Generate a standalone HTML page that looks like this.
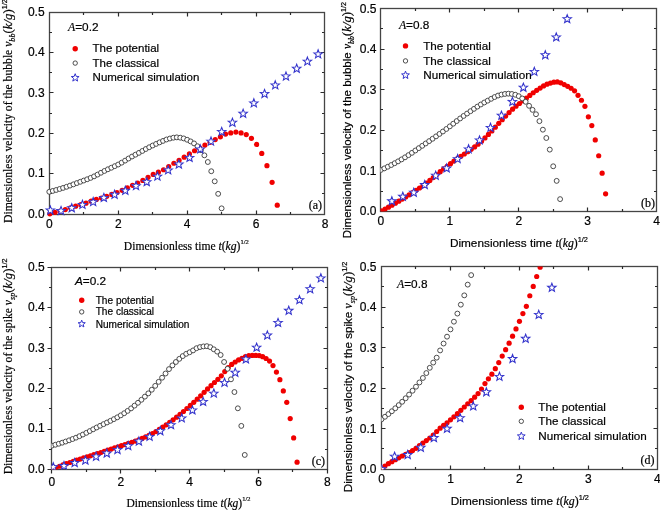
<!DOCTYPE html>
<html><head><meta charset="utf-8"><style>
html,body{margin:0;padding:0;background:#fff;}
svg{display:block;will-change:transform;}
.s{font-family:"Liberation Sans",sans-serif;fill:#000;stroke:#000;stroke-width:0.2;}
.f{font-family:"Liberation Serif",serif;fill:#000;stroke:#000;stroke-width:0.2;}
.fi{font-family:"Liberation Serif",serif;font-style:italic;}
</style></head><body>
<svg width="660" height="510" viewBox="0 0 660 510">
<defs><clipPath id="ca"><rect x="0" y="0" width="660" height="510"/></clipPath></defs>
<rect x="49.5" y="12.5" width="275" height="202" fill="none" stroke="#454545" stroke-width="1.3"/>
<path d="M83.5 214.5V212M83.5 12.5V15M118.5 214.5V210.5M118.5 12.5V16.5M152.5 214.5V212M152.5 12.5V15M187.5 214.5V210.5M187.5 12.5V16.5M221.5 214.5V212M221.5 12.5V15M256.5 214.5V210.5M256.5 12.5V16.5M290.5 214.5V212M290.5 12.5V15M49.5 193.5H52M324.5 193.5H322M49.5 173.5H53.5M324.5 173.5H320.5M49.5 153.5H52M324.5 153.5H322M49.5 133.5H53.5M324.5 133.5H320.5M49.5 113.5H52M324.5 113.5H322M49.5 92.5H53.5M324.5 92.5H320.5M49.5 72.5H52M324.5 72.5H322M49.5 52.5H53.5M324.5 52.5H320.5M49.5 32.5H52M324.5 32.5H322" stroke="#2a2a2a" stroke-width="1.2" fill="none"/>
<rect x="380.5" y="8.5" width="276" height="203" fill="none" stroke="#454545" stroke-width="1.3"/>
<path d="M415.5 211.5V209M415.5 8.5V11M449.5 211.5V207.5M449.5 8.5V12.5M484.5 211.5V209M484.5 8.5V11M518.5 211.5V207.5M518.5 8.5V12.5M553.5 211.5V209M553.5 8.5V11M587.5 211.5V207.5M587.5 8.5V12.5M622.5 211.5V209M622.5 8.5V11M380.5 191.5H383M656.5 191.5H654M380.5 170.5H384.5M656.5 170.5H652.5M380.5 150.5H383M656.5 150.5H654M380.5 130.5H384.5M656.5 130.5H652.5M380.5 109.5H383M656.5 109.5H654M380.5 89.5H384.5M656.5 89.5H652.5M380.5 69.5H383M656.5 69.5H654M380.5 49.5H384.5M656.5 49.5H652.5M380.5 28.5H383M656.5 28.5H654" stroke="#2a2a2a" stroke-width="1.2" fill="none"/>
<rect x="51.5" y="267.5" width="276" height="202" fill="none" stroke="#454545" stroke-width="1.3"/>
<path d="M86.5 469.5V472M86.5 267.5V270M120.5 469.5V473.5M120.5 267.5V271.5M155.5 469.5V472M155.5 267.5V270M189.5 469.5V473.5M189.5 267.5V271.5M224.5 469.5V472M224.5 267.5V270M258.5 469.5V473.5M258.5 267.5V271.5M292.5 469.5V472M292.5 267.5V270M51.5 469.5V473.5M327.5 469.5V473.5M51.5 449.5H49M327.5 449.5H325M51.5 429.5H47.5M327.5 429.5H323.5M51.5 408.5H49M327.5 408.5H325M51.5 388.5H47.5M327.5 388.5H323.5M51.5 368.5H49M327.5 368.5H325M51.5 348.5H47.5M327.5 348.5H323.5M51.5 327.5H49M327.5 327.5H325M51.5 307.5H47.5M327.5 307.5H323.5M51.5 287.5H49M327.5 287.5H325M51.5 469.5H47.5M51.5 267.5H47.5" stroke="#2a2a2a" stroke-width="1.2" fill="none"/>
<rect x="381.5" y="266.5" width="276" height="203" fill="none" stroke="#454545" stroke-width="1.3"/>
<path d="M415.5 469.5V467M415.5 266.5V269M450.5 469.5V465.5M450.5 266.5V270.5M484.5 469.5V467M484.5 266.5V269M519.5 469.5V465.5M519.5 266.5V270.5M553.5 469.5V467M553.5 266.5V269M588.5 469.5V465.5M588.5 266.5V270.5M622.5 469.5V467M622.5 266.5V269M381.5 448.5H384M657.5 448.5H655M381.5 428.5H385.5M657.5 428.5H653.5M381.5 408.5H384M657.5 408.5H655M381.5 388.5H385.5M657.5 388.5H653.5M381.5 367.5H384M657.5 367.5H655M381.5 347.5H385.5M657.5 347.5H653.5M381.5 327.5H384M657.5 327.5H655M381.5 307.5H385.5M657.5 307.5H653.5M381.5 286.5H384M657.5 286.5H655" stroke="#2a2a2a" stroke-width="1.2" fill="none"/>
<clipPath id="ca"><rect x="49.5" y="12.5" width="275" height="202"/></clipPath><g clip-path="url(#ca)">
<g fill="#f00000"><circle cx="49.82" cy="213.85" r="2.6"/><circle cx="54.99" cy="212.36" r="2.6"/><circle cx="60.16" cy="210.98" r="2.6"/><circle cx="65.33" cy="209.53" r="2.6"/><circle cx="70.49" cy="207.85" r="2.6"/><circle cx="75.66" cy="206.18" r="2.6"/><circle cx="80.83" cy="204.7" r="2.6"/><circle cx="86" cy="203.14" r="2.6"/><circle cx="91.17" cy="201.22" r="2.6"/><circle cx="96.34" cy="199.45" r="2.6"/><circle cx="101.51" cy="198.11" r="2.6"/><circle cx="106.68" cy="196.37" r="2.6"/><circle cx="111.85" cy="194.45" r="2.6"/><circle cx="117.02" cy="192.49" r="2.6"/><circle cx="122.19" cy="190.32" r="2.6"/><circle cx="127.36" cy="187.85" r="2.6"/><circle cx="132.53" cy="185.36" r="2.6"/><circle cx="137.7" cy="183.01" r="2.6"/><circle cx="142.87" cy="180.46" r="2.6"/><circle cx="148.04" cy="177.35" r="2.6"/><circle cx="153.2" cy="174.44" r="2.6"/><circle cx="158.37" cy="172.18" r="2.6"/><circle cx="163.54" cy="169.75" r="2.6"/><circle cx="168.71" cy="166.56" r="2.6"/><circle cx="173.88" cy="163.26" r="2.6"/><circle cx="179.05" cy="160.25" r="2.6"/><circle cx="184.22" cy="157.21" r="2.6"/><circle cx="189.39" cy="153.94" r="2.6"/><circle cx="194.56" cy="150.77" r="2.6"/><circle cx="199.73" cy="147.84" r="2.6"/><circle cx="204.9" cy="145.03" r="2.6"/><circle cx="210.07" cy="142.29" r="2.6"/><circle cx="215.24" cy="139.58" r="2.6"/><circle cx="220.41" cy="136.83" r="2.6"/><circle cx="225.58" cy="134.07" r="2.6"/><circle cx="230.75" cy="132.95" r="2.6"/><circle cx="235.91" cy="132.11" r="2.6"/><circle cx="241.08" cy="132.95" r="2.6"/><circle cx="246.25" cy="134.61" r="2.6"/><circle cx="251.42" cy="138.31" r="2.6"/><circle cx="256.59" cy="144.45" r="2.6"/><circle cx="261.76" cy="153.43" r="2.6"/><circle cx="266.93" cy="165.66" r="2.6"/><circle cx="272.1" cy="182.37" r="2.6"/><circle cx="277.27" cy="205.13" r="2.6"/></g>
<g fill="#fff" stroke="#3a3a3a" stroke-width="0.9"><circle cx="49.3" cy="191.81" r="2.45"/><circle cx="52.75" cy="190.93" r="2.45"/><circle cx="56.19" cy="189.98" r="2.45"/><circle cx="59.64" cy="188.98" r="2.45"/><circle cx="63.08" cy="187.92" r="2.45"/><circle cx="66.53" cy="186.81" r="2.45"/><circle cx="69.98" cy="185.6" r="2.45"/><circle cx="73.42" cy="184.34" r="2.45"/><circle cx="76.87" cy="183.05" r="2.45"/><circle cx="80.32" cy="181.78" r="2.45"/><circle cx="83.76" cy="180.53" r="2.45"/><circle cx="87.21" cy="179.25" r="2.45"/><circle cx="90.66" cy="177.88" r="2.45"/><circle cx="94.1" cy="176.34" r="2.45"/><circle cx="97.55" cy="174.59" r="2.45"/><circle cx="100.99" cy="172.75" r="2.45"/><circle cx="104.44" cy="170.95" r="2.45"/><circle cx="107.89" cy="169.29" r="2.45"/><circle cx="111.33" cy="167.73" r="2.45"/><circle cx="114.78" cy="166.16" r="2.45"/><circle cx="118.22" cy="164.51" r="2.45"/><circle cx="121.67" cy="162.66" r="2.45"/><circle cx="125.12" cy="160.61" r="2.45"/><circle cx="128.56" cy="158.52" r="2.45"/><circle cx="132.01" cy="156.53" r="2.45"/><circle cx="135.46" cy="154.69" r="2.45"/><circle cx="138.9" cy="152.87" r="2.45"/><circle cx="142.35" cy="150.95" r="2.45"/><circle cx="145.8" cy="149.02" r="2.45"/><circle cx="149.24" cy="147.22" r="2.45"/><circle cx="152.69" cy="145.51" r="2.45"/><circle cx="156.13" cy="143.9" r="2.45"/><circle cx="159.58" cy="142.37" r="2.45"/><circle cx="163.03" cy="140.9" r="2.45"/><circle cx="166.47" cy="139.5" r="2.45"/><circle cx="169.92" cy="138.52" r="2.45"/><circle cx="173.37" cy="137.71" r="2.45"/><circle cx="176.81" cy="137.35" r="2.45"/><circle cx="180.26" cy="137.69" r="2.45"/><circle cx="183.7" cy="138.43" r="2.45"/><circle cx="187.15" cy="139.77" r="2.45"/><circle cx="190.6" cy="141.39" r="2.45"/><circle cx="194.04" cy="143.41" r="2.45"/><circle cx="197.49" cy="146.23" r="2.45"/><circle cx="200.94" cy="150.21" r="2.45"/><circle cx="204.38" cy="155.32" r="2.45"/><circle cx="207.83" cy="161.99" r="2.45"/><circle cx="211.27" cy="171.24" r="2.45"/><circle cx="214.72" cy="181.32" r="2.45"/><circle cx="218.17" cy="193.83" r="2.45"/><circle cx="221.61" cy="208.35" r="2.45"/></g>
<g fill="#fff" stroke="#3434cc" stroke-width="1.05" stroke-linejoin="miter"><path d="M50.33 205.92 L51.45 208.83 L54.57 208.99 L52.14 210.96 L52.95 213.97 L50.33 212.27 L47.72 213.97 L48.53 210.96 L46.1 208.99 L49.22 208.83Z"/><path d="M61.04 206.44 L62.16 209.35 L65.28 209.51 L62.85 211.48 L63.66 214.49 L61.04 212.79 L58.43 214.49 L59.24 211.48 L56.81 209.51 L59.93 209.35Z"/><path d="M71.76 203.64 L72.87 206.56 L75.99 206.72 L73.56 208.68 L74.37 211.7 L71.76 209.99 L69.14 211.7 L69.95 208.68 L67.52 206.72 L70.64 206.56Z"/><path d="M82.47 200.33 L83.58 203.24 L86.7 203.4 L84.27 205.37 L85.08 208.38 L82.47 206.68 L79.85 208.38 L80.66 205.37 L78.23 203.4 L81.35 203.24Z"/><path d="M93.18 197.52 L94.29 200.43 L97.41 200.6 L94.98 202.56 L95.79 205.57 L93.18 203.87 L90.56 205.57 L91.37 202.56 L88.95 200.6 L92.06 200.43Z"/><path d="M103.89 193.37 L105.01 196.28 L108.12 196.44 L105.7 198.41 L106.5 201.42 L103.89 199.72 L101.27 201.42 L102.08 198.41 L99.66 196.44 L102.77 196.28Z"/><path d="M114.6 190.25 L115.72 193.16 L118.83 193.32 L116.41 195.28 L117.22 198.3 L114.6 196.6 L111.98 198.3 L112.79 195.28 L110.37 193.32 L113.48 193.16Z"/><path d="M125.31 186.21 L126.43 189.13 L129.54 189.29 L127.12 191.25 L127.93 194.26 L125.31 192.56 L122.69 194.26 L123.5 191.25 L121.08 189.29 L124.19 189.13Z"/><path d="M136.02 181.5 L137.14 184.41 L140.25 184.58 L137.83 186.54 L138.64 189.55 L136.02 187.85 L133.41 189.55 L134.21 186.54 L131.79 184.58 L134.9 184.41Z"/><path d="M146.73 177.61 L147.85 180.52 L150.96 180.68 L148.54 182.65 L149.35 185.66 L146.73 183.96 L144.12 185.66 L144.93 182.65 L142.5 180.68 L145.62 180.52Z"/><path d="M157.44 172.05 L158.56 174.97 L161.68 175.13 L159.25 177.09 L160.06 180.1 L157.44 178.4 L154.83 180.1 L155.64 177.09 L153.21 175.13 L156.33 174.97Z"/><path d="M168.15 165.8 L169.27 168.71 L172.39 168.87 L169.96 170.84 L170.77 173.85 L168.15 172.15 L165.54 173.85 L166.35 170.84 L163.92 168.87 L167.04 168.71Z"/><path d="M178.87 159.93 L179.98 162.85 L183.1 163.01 L180.67 164.97 L181.48 167.98 L178.87 166.28 L176.25 167.98 L177.06 164.97 L174.63 163.01 L177.75 162.85Z"/><path d="M189.58 153.38 L190.69 156.29 L193.81 156.45 L191.38 158.41 L192.19 161.43 L189.58 159.73 L186.96 161.43 L187.77 158.41 L185.34 156.45 L188.46 156.29Z"/><path d="M200.29 144.84 L201.4 147.75 L204.52 147.91 L202.09 149.87 L202.9 152.89 L200.29 151.19 L197.67 152.89 L198.48 149.87 L196.05 147.91 L199.17 147.75Z"/><path d="M211 137.03 L212.11 139.94 L215.23 140.11 L212.81 142.07 L213.61 145.08 L211 143.38 L208.38 145.08 L209.19 142.07 L206.77 140.11 L209.88 139.94Z"/><path d="M221.71 127.38 L222.83 130.29 L225.94 130.45 L223.52 132.42 L224.32 135.43 L221.71 133.73 L219.09 135.43 L219.9 132.42 L217.48 130.45 L220.59 130.29Z"/><path d="M232.42 118.17 L233.54 121.08 L236.65 121.24 L234.23 123.2 L235.04 126.22 L232.42 124.52 L229.8 126.22 L230.61 123.2 L228.19 121.24 L231.3 121.08Z"/><path d="M243.13 109.18 L244.25 112.1 L247.36 112.26 L244.94 114.22 L245.75 117.23 L243.13 115.53 L240.52 117.23 L241.32 114.22 L238.9 112.26 L242.01 112.1Z"/><path d="M253.84 98.77 L254.96 101.68 L258.07 101.84 L255.65 103.8 L256.46 106.82 L253.84 105.12 L251.23 106.82 L252.03 103.8 L249.61 101.84 L252.73 101.68Z"/><path d="M264.55 89.45 L265.67 92.36 L268.78 92.53 L266.36 94.49 L267.17 97.5 L264.55 95.8 L261.94 97.5 L262.75 94.49 L260.32 92.53 L263.44 92.36Z"/><path d="M275.26 80.83 L276.38 83.75 L279.5 83.91 L277.07 85.87 L277.88 88.88 L275.26 87.18 L272.65 88.88 L273.46 85.87 L271.03 83.91 L274.15 83.75Z"/><path d="M285.97 71.92 L287.09 74.83 L290.21 74.99 L287.78 76.96 L288.59 79.97 L285.97 78.27 L283.36 79.97 L284.17 76.96 L281.74 74.99 L284.86 74.83Z"/><path d="M296.69 64.2 L297.8 67.11 L300.92 67.27 L298.49 69.24 L299.3 72.25 L296.69 70.55 L294.07 72.25 L294.88 69.24 L292.45 67.27 L295.57 67.11Z"/><path d="M307.4 57.08 L308.51 60 L311.63 60.16 L309.2 62.12 L310.01 65.13 L307.4 63.43 L304.78 65.13 L305.59 62.12 L303.16 60.16 L306.28 60Z"/><path d="M318.11 49.8 L319.22 52.72 L322.34 52.88 L319.91 54.84 L320.72 57.85 L318.11 56.15 L315.49 57.85 L316.3 54.84 L313.88 52.88 L316.99 52.72Z"/></g>
</g>
<clipPath id="cb"><rect x="380.5" y="8.5" width="276" height="203"/></clipPath><g clip-path="url(#cb)">
<g fill="#f00000"><circle cx="381.59" cy="210.94" r="2.6"/><circle cx="385.04" cy="209.09" r="2.6"/><circle cx="388.48" cy="207.2" r="2.6"/><circle cx="391.93" cy="205.25" r="2.6"/><circle cx="395.37" cy="203.25" r="2.6"/><circle cx="398.82" cy="201.21" r="2.6"/><circle cx="402.27" cy="199.12" r="2.6"/><circle cx="405.71" cy="196.98" r="2.6"/><circle cx="409.16" cy="194.82" r="2.6"/><circle cx="412.61" cy="192.6" r="2.6"/><circle cx="416.05" cy="190.33" r="2.6"/><circle cx="419.5" cy="187.99" r="2.6"/><circle cx="422.94" cy="185.57" r="2.6"/><circle cx="426.39" cy="183.07" r="2.6"/><circle cx="429.84" cy="180.42" r="2.6"/><circle cx="433.28" cy="177.55" r="2.6"/><circle cx="436.73" cy="174.59" r="2.6"/><circle cx="440.18" cy="171.67" r="2.6"/><circle cx="443.62" cy="168.92" r="2.6"/><circle cx="447.07" cy="166.24" r="2.6"/><circle cx="450.51" cy="163.64" r="2.6"/><circle cx="453.96" cy="161.11" r="2.6"/><circle cx="457.41" cy="158.7" r="2.6"/><circle cx="460.85" cy="156.36" r="2.6"/><circle cx="464.3" cy="154.02" r="2.6"/><circle cx="467.75" cy="151.65" r="2.6"/><circle cx="471.19" cy="149.32" r="2.6"/><circle cx="474.64" cy="146.89" r="2.6"/><circle cx="478.08" cy="144.19" r="2.6"/><circle cx="481.53" cy="141.16" r="2.6"/><circle cx="484.98" cy="137.88" r="2.6"/><circle cx="488.42" cy="134.46" r="2.6"/><circle cx="491.87" cy="130.93" r="2.6"/><circle cx="495.32" cy="127.17" r="2.6"/><circle cx="498.76" cy="123.36" r="2.6"/><circle cx="502.21" cy="119.68" r="2.6"/><circle cx="505.65" cy="116.07" r="2.6"/><circle cx="509.1" cy="112.53" r="2.6"/><circle cx="512.55" cy="109.21" r="2.6"/><circle cx="515.99" cy="106.22" r="2.6"/><circle cx="519.44" cy="103.48" r="2.6"/><circle cx="522.89" cy="100.85" r="2.6"/><circle cx="526.33" cy="98.19" r="2.6"/><circle cx="529.78" cy="95.44" r="2.6"/><circle cx="533.22" cy="92.74" r="2.6"/><circle cx="536.67" cy="90.29" r="2.6"/><circle cx="540.12" cy="88.06" r="2.6"/><circle cx="543.56" cy="85.93" r="2.6"/><circle cx="547.01" cy="84.2" r="2.6"/><circle cx="550.46" cy="83.07" r="2.6"/><circle cx="553.9" cy="82.19" r="2.6"/><circle cx="557.35" cy="81.94" r="2.6"/><circle cx="560.79" cy="82.85" r="2.6"/><circle cx="564.24" cy="84.53" r="2.6"/><circle cx="567.69" cy="86.31" r="2.6"/><circle cx="571.13" cy="88.24" r="2.6"/><circle cx="574.58" cy="90.84" r="2.6"/><circle cx="578.03" cy="95.3" r="2.6"/><circle cx="581.47" cy="100.27" r="2.6"/><circle cx="584.92" cy="106.32" r="2.6"/><circle cx="588.36" cy="116.8" r="2.6"/><circle cx="591.81" cy="125.6" r="2.6"/><circle cx="595.26" cy="139.91" r="2.6"/><circle cx="598.7" cy="155.73" r="2.6"/><circle cx="602.15" cy="173.17" r="2.6"/><circle cx="605.6" cy="193.86" r="2.6"/></g>
<g fill="#fff" stroke="#3a3a3a" stroke-width="0.9"><circle cx="380.9" cy="169.93" r="2.45"/><circle cx="384.35" cy="168.38" r="2.45"/><circle cx="387.79" cy="166.74" r="2.45"/><circle cx="391.24" cy="165.02" r="2.45"/><circle cx="394.69" cy="163.21" r="2.45"/><circle cx="398.13" cy="161.34" r="2.45"/><circle cx="401.58" cy="159.39" r="2.45"/><circle cx="405.02" cy="157.32" r="2.45"/><circle cx="408.47" cy="155.13" r="2.45"/><circle cx="411.92" cy="152.84" r="2.45"/><circle cx="415.36" cy="150.5" r="2.45"/><circle cx="418.81" cy="148.14" r="2.45"/><circle cx="422.25" cy="145.8" r="2.45"/><circle cx="425.7" cy="143.47" r="2.45"/><circle cx="429.15" cy="141.12" r="2.45"/><circle cx="432.59" cy="138.76" r="2.45"/><circle cx="436.04" cy="136.36" r="2.45"/><circle cx="439.49" cy="133.94" r="2.45"/><circle cx="442.93" cy="131.49" r="2.45"/><circle cx="446.38" cy="128.97" r="2.45"/><circle cx="449.82" cy="126.35" r="2.45"/><circle cx="453.27" cy="123.69" r="2.45"/><circle cx="456.72" cy="121.04" r="2.45"/><circle cx="460.16" cy="118.43" r="2.45"/><circle cx="463.61" cy="115.93" r="2.45"/><circle cx="467.06" cy="113.55" r="2.45"/><circle cx="470.5" cy="111.18" r="2.45"/><circle cx="473.95" cy="108.86" r="2.45"/><circle cx="477.39" cy="106.61" r="2.45"/><circle cx="480.84" cy="104.48" r="2.45"/><circle cx="484.29" cy="102.49" r="2.45"/><circle cx="487.73" cy="100.66" r="2.45"/><circle cx="491.18" cy="98.79" r="2.45"/><circle cx="494.63" cy="97.03" r="2.45"/><circle cx="498.07" cy="95.55" r="2.45"/><circle cx="501.52" cy="94.55" r="2.45"/><circle cx="504.97" cy="93.96" r="2.45"/><circle cx="508.41" cy="93.68" r="2.45"/><circle cx="511.86" cy="93.98" r="2.45"/><circle cx="515.3" cy="94.75" r="2.45"/><circle cx="518.75" cy="96.18" r="2.45"/><circle cx="522.2" cy="98.46" r="2.45"/><circle cx="525.64" cy="101.79" r="2.45"/><circle cx="529.09" cy="105.83" r="2.45"/><circle cx="532.54" cy="109.86" r="2.45"/><circle cx="535.98" cy="114.22" r="2.45"/><circle cx="539.43" cy="121.16" r="2.45"/><circle cx="542.87" cy="129.69" r="2.45"/><circle cx="546.32" cy="138" r="2.45"/><circle cx="549.77" cy="149.63" r="2.45"/><circle cx="553.21" cy="166.28" r="2.45"/><circle cx="556.66" cy="180.88" r="2.45"/><circle cx="560.11" cy="199.13" r="2.45"/></g>
<g fill="#fff" stroke="#3434cc" stroke-width="1.05" stroke-linejoin="miter"><path d="M391.86 196.71 L392.98 199.62 L396.09 199.78 L393.67 201.75 L394.47 204.76 L391.86 203.06 L389.24 204.76 L390.05 201.75 L387.63 199.78 L390.74 199.62Z"/><path d="M402.82 192.25 L403.93 195.16 L407.05 195.32 L404.63 197.29 L405.43 200.3 L402.82 198.6 L400.2 200.3 L401.01 197.29 L398.59 195.32 L401.7 195.16Z"/><path d="M413.78 188.19 L414.89 191.11 L418.01 191.27 L415.58 193.23 L416.39 196.24 L413.78 194.54 L411.16 196.24 L411.97 193.23 L409.55 191.27 L412.66 191.11Z"/><path d="M424.74 180.49 L425.85 183.4 L428.97 183.56 L426.54 185.52 L427.35 188.54 L424.74 186.84 L422.12 188.54 L422.93 185.52 L420.5 183.56 L423.62 183.4Z"/><path d="M435.7 171.16 L436.81 174.07 L439.93 174.23 L437.5 176.19 L438.31 179.21 L435.7 177.51 L433.08 179.21 L433.89 176.19 L431.46 174.23 L434.58 174.07Z"/><path d="M446.65 163.86 L447.77 166.77 L450.89 166.93 L448.46 168.89 L449.27 171.91 L446.65 170.21 L444.04 171.91 L444.85 168.89 L442.42 166.93 L445.54 166.77Z"/><path d="M457.61 154.53 L458.73 157.44 L461.85 157.6 L459.42 159.56 L460.23 162.58 L457.61 160.88 L455 162.58 L455.81 159.56 L453.38 157.6 L456.5 157.44Z"/><path d="M468.57 144.79 L469.69 147.71 L472.8 147.87 L470.38 149.83 L471.19 152.84 L468.57 151.14 L465.96 152.84 L466.77 149.83 L464.34 147.87 L467.46 147.71Z"/><path d="M479.53 135.87 L480.65 138.78 L483.76 138.94 L481.34 140.91 L482.15 143.92 L479.53 142.22 L476.92 143.92 L477.72 140.91 L475.3 138.94 L478.41 138.78Z"/><path d="M490.49 123.3 L491.61 126.21 L494.72 126.37 L492.3 128.33 L493.11 131.35 L490.49 129.65 L487.88 131.35 L488.68 128.33 L486.26 126.37 L489.37 126.21Z"/><path d="M501.45 111.13 L502.57 114.04 L505.68 114.2 L503.26 116.17 L504.07 119.18 L501.45 117.48 L498.83 119.18 L499.64 116.17 L497.22 114.2 L500.33 114.04Z"/><path d="M512.41 97.34 L513.53 100.25 L516.64 100.41 L514.22 102.38 L515.02 105.39 L512.41 103.69 L509.79 105.39 L510.6 102.38 L508.18 100.41 L511.29 100.25Z"/><path d="M523.37 83.14 L524.48 86.05 L527.6 86.22 L525.17 88.18 L525.98 91.19 L523.37 89.49 L520.75 91.19 L521.56 88.18 L519.14 86.22 L522.25 86.05Z"/><path d="M534.33 67.32 L535.44 70.24 L538.56 70.4 L536.13 72.36 L536.94 75.37 L534.33 73.67 L531.71 75.37 L532.52 72.36 L530.09 70.4 L533.21 70.24Z"/><path d="M545.29 50.69 L546.4 53.61 L549.52 53.77 L547.09 55.73 L547.9 58.74 L545.29 57.04 L542.67 58.74 L543.48 55.73 L541.05 53.77 L544.17 53.61Z"/><path d="M556.25 32.85 L557.36 35.76 L560.48 35.92 L558.05 37.88 L558.86 40.9 L556.25 39.2 L553.63 40.9 L554.44 37.88 L552.01 35.92 L555.13 35.76Z"/><path d="M567.2 14.6 L568.32 17.51 L571.44 17.67 L569.01 19.63 L569.82 22.65 L567.2 20.95 L564.59 22.65 L565.4 19.63 L562.97 17.67 L566.09 17.51Z"/></g>
</g>
<clipPath id="cc"><rect x="51.5" y="267.5" width="276" height="202"/></clipPath><g clip-path="url(#cc)">
<g fill="#f00000"><circle cx="52.59" cy="469.18" r="2.6"/><circle cx="56.03" cy="467.62" r="2.6"/><circle cx="59.48" cy="466.26" r="2.6"/><circle cx="62.92" cy="464.95" r="2.6"/><circle cx="66.36" cy="463.69" r="2.6"/><circle cx="69.81" cy="462.48" r="2.6"/><circle cx="73.25" cy="461.31" r="2.6"/><circle cx="76.69" cy="460.16" r="2.6"/><circle cx="80.14" cy="459.04" r="2.6"/><circle cx="83.58" cy="457.94" r="2.6"/><circle cx="87.03" cy="456.85" r="2.6"/><circle cx="90.47" cy="455.77" r="2.6"/><circle cx="93.91" cy="454.69" r="2.6"/><circle cx="97.36" cy="453.6" r="2.6"/><circle cx="100.8" cy="452.49" r="2.6"/><circle cx="104.25" cy="451.37" r="2.6"/><circle cx="107.69" cy="450.22" r="2.6"/><circle cx="111.13" cy="449.04" r="2.6"/><circle cx="114.58" cy="447.89" r="2.6"/><circle cx="118.02" cy="446.77" r="2.6"/><circle cx="121.46" cy="445.66" r="2.6"/><circle cx="124.91" cy="444.56" r="2.6"/><circle cx="128.35" cy="443.44" r="2.6"/><circle cx="131.8" cy="442.29" r="2.6"/><circle cx="135.24" cy="441.08" r="2.6"/><circle cx="138.68" cy="439.8" r="2.6"/><circle cx="142.13" cy="438.44" r="2.6"/><circle cx="145.57" cy="436.96" r="2.6"/><circle cx="149.01" cy="435.35" r="2.6"/><circle cx="152.46" cy="433.54" r="2.6"/><circle cx="155.9" cy="431.55" r="2.6"/><circle cx="159.34" cy="429.41" r="2.6"/><circle cx="162.79" cy="427.14" r="2.6"/><circle cx="166.23" cy="424.78" r="2.6"/><circle cx="169.68" cy="422.36" r="2.6"/><circle cx="173.12" cy="419.87" r="2.6"/><circle cx="176.56" cy="417.22" r="2.6"/><circle cx="180.01" cy="414.43" r="2.6"/><circle cx="183.45" cy="411.52" r="2.6"/><circle cx="186.9" cy="408.51" r="2.6"/><circle cx="190.34" cy="405.44" r="2.6"/><circle cx="193.78" cy="402.32" r="2.6"/><circle cx="197.23" cy="399.15" r="2.6"/><circle cx="200.67" cy="395.81" r="2.6"/><circle cx="204.11" cy="392.37" r="2.6"/><circle cx="207.56" cy="388.94" r="2.6"/><circle cx="211" cy="385.63" r="2.6"/><circle cx="214.44" cy="382.5" r="2.6"/><circle cx="217.89" cy="379.33" r="2.6"/><circle cx="221.33" cy="375.8" r="2.6"/><circle cx="224.78" cy="371.6" r="2.6"/><circle cx="228.22" cy="367.54" r="2.6"/><circle cx="231.66" cy="364.47" r="2.6"/><circle cx="235.11" cy="361.99" r="2.6"/><circle cx="238.55" cy="359.95" r="2.6"/><circle cx="242" cy="358.28" r="2.6"/><circle cx="245.44" cy="356.69" r="2.6"/><circle cx="248.88" cy="355.62" r="2.6"/><circle cx="252.33" cy="355.46" r="2.6"/><circle cx="255.77" cy="355.46" r="2.6"/><circle cx="259.21" cy="355.54" r="2.6"/><circle cx="262.66" cy="356.7" r="2.6"/><circle cx="266.1" cy="358.48" r="2.6"/><circle cx="269.55" cy="361.12" r="2.6"/><circle cx="272.99" cy="365.57" r="2.6"/><circle cx="276.43" cy="372.04" r="2.6"/><circle cx="279.88" cy="379.72" r="2.6"/><circle cx="283.32" cy="390.95" r="2.6"/><circle cx="286.76" cy="402.37" r="2.6"/><circle cx="290.21" cy="418.55" r="2.6"/><circle cx="293.65" cy="437.96" r="2.6"/><circle cx="297.09" cy="462.22" r="2.6"/></g>
<g fill="#fff" stroke="#3a3a3a" stroke-width="0.9"><circle cx="51.9" cy="445.64" r="2.45"/><circle cx="55.34" cy="444.74" r="2.45"/><circle cx="58.79" cy="443.75" r="2.45"/><circle cx="62.23" cy="442.68" r="2.45"/><circle cx="65.67" cy="441.53" r="2.45"/><circle cx="69.12" cy="440.31" r="2.45"/><circle cx="72.56" cy="439.02" r="2.45"/><circle cx="76.01" cy="437.67" r="2.45"/><circle cx="79.45" cy="436.17" r="2.45"/><circle cx="82.89" cy="434.55" r="2.45"/><circle cx="86.34" cy="432.83" r="2.45"/><circle cx="89.78" cy="431.06" r="2.45"/><circle cx="93.22" cy="429.27" r="2.45"/><circle cx="96.67" cy="427.5" r="2.45"/><circle cx="100.11" cy="425.78" r="2.45"/><circle cx="103.56" cy="424.13" r="2.45"/><circle cx="107" cy="422.49" r="2.45"/><circle cx="110.44" cy="420.84" r="2.45"/><circle cx="113.89" cy="419.13" r="2.45"/><circle cx="117.33" cy="417.31" r="2.45"/><circle cx="120.78" cy="415.36" r="2.45"/><circle cx="124.22" cy="413.22" r="2.45"/><circle cx="127.66" cy="410.88" r="2.45"/><circle cx="131.11" cy="408.35" r="2.45"/><circle cx="134.55" cy="405.64" r="2.45"/><circle cx="137.99" cy="402.78" r="2.45"/><circle cx="141.44" cy="399.77" r="2.45"/><circle cx="144.88" cy="396.63" r="2.45"/><circle cx="148.33" cy="393.35" r="2.45"/><circle cx="151.77" cy="389.74" r="2.45"/><circle cx="155.21" cy="385.86" r="2.45"/><circle cx="158.66" cy="381.82" r="2.45"/><circle cx="162.1" cy="377.72" r="2.45"/><circle cx="165.54" cy="373.51" r="2.45"/><circle cx="168.99" cy="369.11" r="2.45"/><circle cx="172.43" cy="365.38" r="2.45"/><circle cx="175.88" cy="361.99" r="2.45"/><circle cx="179.32" cy="358.84" r="2.45"/><circle cx="182.76" cy="356.07" r="2.45"/><circle cx="186.21" cy="353.82" r="2.45"/><circle cx="189.65" cy="352.27" r="2.45"/><circle cx="193.09" cy="350.4" r="2.45"/><circle cx="196.54" cy="348.2" r="2.45"/><circle cx="199.98" cy="347.06" r="2.45"/><circle cx="203.43" cy="346.42" r="2.45"/><circle cx="206.87" cy="346.16" r="2.45"/><circle cx="210.31" cy="347.14" r="2.45"/><circle cx="213.76" cy="349.28" r="2.45"/><circle cx="217.2" cy="351.64" r="2.45"/><circle cx="220.64" cy="354.98" r="2.45"/><circle cx="224.09" cy="361.97" r="2.45"/><circle cx="227.53" cy="368.81" r="2.45"/><circle cx="230.98" cy="379.32" r="2.45"/><circle cx="234.42" cy="392.04" r="2.45"/><circle cx="237.86" cy="408.31" r="2.45"/><circle cx="241.31" cy="425.9" r="2.45"/><circle cx="244.75" cy="454.94" r="2.45"/></g>
<g fill="#fff" stroke="#3434cc" stroke-width="1.05" stroke-linejoin="miter"><path d="M53.28 462.64 L54.39 465.55 L57.51 465.71 L55.08 467.67 L55.89 470.69 L53.28 468.99 L50.66 470.69 L51.47 467.67 L49.05 465.71 L52.16 465.55Z"/><path d="M63.98 461.46 L65.1 464.38 L68.21 464.54 L65.79 466.5 L66.6 469.51 L63.98 467.81 L61.37 469.51 L62.17 466.5 L59.75 464.54 L62.86 464.38Z"/><path d="M74.68 458.45 L75.8 461.37 L78.92 461.53 L76.49 463.49 L77.3 466.5 L74.68 464.8 L72.07 466.5 L72.88 463.49 L70.45 461.53 L73.57 461.37Z"/><path d="M85.39 455.92 L86.5 458.83 L89.62 458.99 L87.19 460.96 L88 463.97 L85.39 462.27 L82.77 463.97 L83.58 460.96 L81.15 458.99 L84.27 458.83Z"/><path d="M96.09 452.19 L97.21 455.1 L100.32 455.26 L97.9 457.22 L98.71 460.24 L96.09 458.54 L93.47 460.24 L94.28 457.22 L91.86 455.26 L94.97 455.1Z"/><path d="M106.79 448.94 L107.91 451.85 L111.03 452.01 L108.6 453.98 L109.41 456.99 L106.79 455.29 L104.18 456.99 L104.99 453.98 L102.56 452.01 L105.68 451.85Z"/><path d="M117.5 445.41 L118.61 448.33 L121.73 448.49 L119.3 450.45 L120.11 453.46 L117.5 451.76 L114.88 453.46 L115.69 450.45 L113.26 448.49 L116.38 448.33Z"/><path d="M128.2 441.59 L129.32 444.5 L132.43 444.66 L130.01 446.62 L130.82 449.64 L128.2 447.94 L125.58 449.64 L126.39 446.62 L123.97 444.66 L127.08 444.5Z"/><path d="M138.9 436.95 L140.02 439.86 L143.14 440.02 L140.71 441.98 L141.52 445 L138.9 443.3 L136.29 445 L137.1 441.98 L134.67 440.02 L137.79 439.86Z"/><path d="M149.61 432.26 L150.72 435.18 L153.84 435.34 L151.41 437.3 L152.22 440.31 L149.61 438.61 L146.99 440.31 L147.8 437.3 L145.37 435.34 L148.49 435.18Z"/><path d="M160.31 426.64 L161.43 429.56 L164.54 429.72 L162.12 431.68 L162.92 434.69 L160.31 432.99 L157.69 434.69 L158.5 431.68 L156.08 429.72 L159.19 429.56Z"/><path d="M171.01 420.6 L172.13 423.51 L175.24 423.67 L172.82 425.64 L173.63 428.65 L171.01 426.95 L168.4 428.65 L169.21 425.64 L166.78 423.67 L169.9 423.51Z"/><path d="M181.72 413.77 L182.83 416.68 L185.95 416.84 L183.52 418.81 L184.33 421.82 L181.72 420.12 L179.1 421.82 L179.91 418.81 L177.48 416.84 L180.6 416.68Z"/><path d="M192.42 405.86 L193.54 408.77 L196.65 408.93 L194.23 410.89 L195.03 413.91 L192.42 412.21 L189.8 413.91 L190.61 410.89 L188.19 408.93 L191.3 408.77Z"/><path d="M203.12 397.35 L204.24 400.26 L207.35 400.43 L204.93 402.39 L205.74 405.4 L203.12 403.7 L200.51 405.4 L201.31 402.39 L198.89 400.43 L202.01 400.26Z"/><path d="M213.83 389.05 L214.94 391.97 L218.06 392.13 L215.63 394.09 L216.44 397.1 L213.83 395.4 L211.21 397.1 L212.02 394.09 L209.59 392.13 L212.71 391.97Z"/><path d="M224.53 378.29 L225.65 381.2 L228.76 381.36 L226.34 383.32 L227.14 386.34 L224.53 384.64 L221.91 386.34 L222.72 383.32 L220.3 381.36 L223.41 381.2Z"/><path d="M235.23 368.19 L236.35 371.1 L239.46 371.27 L237.04 373.23 L237.85 376.24 L235.23 374.54 L232.62 376.24 L233.42 373.23 L231 371.27 L234.11 371.1Z"/><path d="M245.93 354.88 L247.05 357.79 L250.17 357.95 L247.74 359.91 L248.55 362.93 L245.93 361.23 L243.32 362.93 L244.13 359.91 L241.7 357.95 L244.82 357.79Z"/><path d="M256.64 343.11 L257.75 346.02 L260.87 346.18 L258.44 348.14 L259.25 351.16 L256.64 349.46 L254.02 351.16 L254.83 348.14 L252.41 346.18 L255.52 346.02Z"/><path d="M267.34 330.94 L268.46 333.85 L271.57 334.02 L269.15 335.98 L269.96 338.99 L267.34 337.29 L264.73 338.99 L265.53 335.98 L263.11 334.02 L266.22 333.85Z"/><path d="M278.04 318.39 L279.16 321.3 L282.28 321.46 L279.85 323.42 L280.66 326.44 L278.04 324.74 L275.43 326.44 L276.24 323.42 L273.81 321.46 L276.93 321.3Z"/><path d="M288.75 306.21 L289.86 309.12 L292.98 309.28 L290.55 311.25 L291.36 314.26 L288.75 312.56 L286.13 314.26 L286.94 311.25 L284.52 309.28 L287.63 309.12Z"/><path d="M299.45 295.6 L300.57 298.52 L303.68 298.68 L301.26 300.64 L302.07 303.65 L299.45 301.95 L296.83 303.65 L297.64 300.64 L295.22 298.68 L298.33 298.52Z"/><path d="M310.15 284.66 L311.27 287.58 L314.39 287.74 L311.96 289.7 L312.77 292.71 L310.15 291.01 L307.54 292.71 L308.35 289.7 L305.92 287.74 L309.04 287.58Z"/><path d="M320.86 273.77 L321.97 276.68 L325.09 276.84 L322.66 278.81 L323.47 281.82 L320.86 280.12 L318.24 281.82 L319.05 278.81 L316.62 276.84 L319.74 276.68Z"/></g>
</g>
<clipPath id="cd"><rect x="381.5" y="266.5" width="276" height="203"/></clipPath><g clip-path="url(#cd)">
<g fill="#f00000"><circle cx="381.5" cy="469.1" r="2.6"/><circle cx="384.95" cy="466.02" r="2.6"/><circle cx="388.4" cy="463.7" r="2.6"/><circle cx="391.85" cy="461.69" r="2.6"/><circle cx="395.3" cy="459.77" r="2.6"/><circle cx="398.74" cy="457.82" r="2.6"/><circle cx="402.19" cy="456.02" r="2.6"/><circle cx="405.64" cy="454.27" r="2.6"/><circle cx="409.09" cy="452.49" r="2.6"/><circle cx="412.54" cy="450.55" r="2.6"/><circle cx="415.99" cy="448.35" r="2.6"/><circle cx="419.44" cy="445.69" r="2.6"/><circle cx="422.88" cy="443.02" r="2.6"/><circle cx="426.33" cy="440.54" r="2.6"/><circle cx="429.78" cy="437.98" r="2.6"/><circle cx="433.23" cy="435.03" r="2.6"/><circle cx="436.68" cy="431.5" r="2.6"/><circle cx="440.13" cy="428.2" r="2.6"/><circle cx="443.58" cy="425.42" r="2.6"/><circle cx="447.03" cy="422.74" r="2.6"/><circle cx="450.48" cy="419.83" r="2.6"/><circle cx="453.92" cy="416.78" r="2.6"/><circle cx="457.37" cy="413.63" r="2.6"/><circle cx="460.82" cy="410.33" r="2.6"/><circle cx="464.27" cy="406.98" r="2.6"/><circle cx="467.72" cy="403.75" r="2.6"/><circle cx="471.17" cy="400.53" r="2.6"/><circle cx="474.62" cy="397.17" r="2.6"/><circle cx="478.06" cy="393.61" r="2.6"/><circle cx="481.51" cy="389" r="2.6"/><circle cx="484.96" cy="383.6" r="2.6"/><circle cx="488.41" cy="378.86" r="2.6"/><circle cx="491.86" cy="374.14" r="2.6"/><circle cx="495.31" cy="368.65" r="2.6"/><circle cx="498.76" cy="362.58" r="2.6"/><circle cx="502.21" cy="356.11" r="2.6"/><circle cx="505.65" cy="349.7" r="2.6"/><circle cx="509.1" cy="343.15" r="2.6"/><circle cx="512.55" cy="336.21" r="2.6"/><circle cx="516" cy="328.97" r="2.6"/><circle cx="519.45" cy="321.32" r="2.6"/><circle cx="522.9" cy="313.58" r="2.6"/><circle cx="526.35" cy="306.37" r="2.6"/><circle cx="529.8" cy="295.76" r="2.6"/><circle cx="533.25" cy="286.45" r="2.6"/><circle cx="536.69" cy="276.48" r="2.6"/><circle cx="540.14" cy="267.17" r="2.6"/></g>
<g fill="#fff" stroke="#3a3a3a" stroke-width="0.9"><circle cx="381.5" cy="419.29" r="2.45"/><circle cx="384.95" cy="416.77" r="2.45"/><circle cx="388.4" cy="414.08" r="2.45"/><circle cx="391.85" cy="411.24" r="2.45"/><circle cx="395.3" cy="408.25" r="2.45"/><circle cx="398.74" cy="405.11" r="2.45"/><circle cx="402.19" cy="401.77" r="2.45"/><circle cx="405.64" cy="398.26" r="2.45"/><circle cx="409.09" cy="394.58" r="2.45"/><circle cx="412.54" cy="390.74" r="2.45"/><circle cx="415.99" cy="386.71" r="2.45"/><circle cx="419.44" cy="382.46" r="2.45"/><circle cx="422.88" cy="377.98" r="2.45"/><circle cx="426.33" cy="373.07" r="2.45"/><circle cx="429.78" cy="367.81" r="2.45"/><circle cx="433.23" cy="362.59" r="2.45"/><circle cx="436.68" cy="357.67" r="2.45"/><circle cx="440.13" cy="350.44" r="2.45"/><circle cx="443.58" cy="343.55" r="2.45"/><circle cx="447.03" cy="336.66" r="2.45"/><circle cx="450.48" cy="329.38" r="2.45"/><circle cx="453.92" cy="321.68" r="2.45"/><circle cx="457.37" cy="313.58" r="2.45"/><circle cx="460.82" cy="304.67" r="2.45"/><circle cx="464.27" cy="295.36" r="2.45"/><circle cx="467.72" cy="284.62" r="2.45"/><circle cx="471.17" cy="275.11" r="2.45"/></g>
<g fill="#fff" stroke="#3434cc" stroke-width="1.05" stroke-linejoin="miter"><path d="M381.5 464.65 L382.62 467.56 L385.73 467.72 L383.31 469.69 L384.12 472.7 L381.5 471 L378.88 472.7 L379.69 469.69 L377.27 467.72 L380.38 467.56Z"/><path d="M394.61 452.1 L395.72 455.01 L398.84 455.17 L396.41 457.13 L397.22 460.15 L394.61 458.44 L391.99 460.15 L392.8 457.13 L390.37 455.17 L393.49 455.01Z"/><path d="M407.71 450.48 L408.83 453.39 L411.94 453.55 L409.52 455.51 L410.33 458.53 L407.71 456.82 L405.09 458.53 L405.9 455.51 L403.48 453.55 L406.59 453.39Z"/><path d="M420.82 443.19 L421.93 446.1 L425.05 446.26 L422.62 448.22 L423.43 451.24 L420.82 449.53 L418.2 451.24 L419.01 448.22 L416.58 446.26 L419.7 446.1Z"/><path d="M433.92 433.47 L435.04 436.38 L438.15 436.54 L435.73 438.5 L436.54 441.52 L433.92 439.81 L431.31 441.52 L432.11 438.5 L429.69 436.54 L432.8 436.38Z"/><path d="M447.03 424.23 L448.14 427.14 L451.26 427.31 L448.83 429.27 L449.64 432.28 L447.03 430.58 L444.41 432.28 L445.22 429.27 L442.79 427.31 L445.91 427.14Z"/><path d="M460.13 413.62 L461.25 416.53 L464.36 416.69 L461.94 418.66 L462.75 421.67 L460.13 419.97 L457.52 421.67 L458.32 418.66 L455.9 416.69 L459.01 416.53Z"/><path d="M473.24 401.88 L474.35 404.79 L477.47 404.95 L475.04 406.91 L475.85 409.93 L473.24 408.23 L470.62 409.93 L471.43 406.91 L469 404.95 L472.12 404.79Z"/><path d="M486.34 387.7 L487.46 390.61 L490.57 390.77 L488.15 392.74 L488.96 395.75 L486.34 394.05 L483.73 395.75 L484.53 392.74 L482.11 390.77 L485.23 390.61Z"/><path d="M499.45 372.31 L500.56 375.22 L503.68 375.38 L501.25 377.35 L502.06 380.36 L499.45 378.66 L496.83 380.36 L497.64 377.35 L495.22 375.38 L498.33 375.22Z"/><path d="M512.55 354.49 L513.67 357.4 L516.78 357.56 L514.36 359.53 L515.17 362.54 L512.55 360.84 L509.94 362.54 L510.75 359.53 L508.32 357.56 L511.44 357.4Z"/><path d="M525.66 334.24 L526.77 337.15 L529.89 337.31 L527.46 339.28 L528.27 342.29 L525.66 340.59 L523.04 342.29 L523.85 339.28 L521.43 337.31 L524.54 337.15Z"/><path d="M538.76 310.34 L539.88 313.26 L543 313.42 L540.57 315.38 L541.38 318.4 L538.76 316.69 L536.15 318.4 L536.96 315.38 L534.53 313.42 L537.65 313.26Z"/><path d="M551.87 283.21 L552.99 286.12 L556.1 286.28 L553.68 288.25 L554.48 291.26 L551.87 289.56 L549.25 291.26 L550.06 288.25 L547.64 286.28 L550.75 286.12Z"/></g>
</g>
<text x="44.6" y="217.7" font-size="12" text-anchor="end" class="s">0.0</text>
<text x="44.6" y="177.36" font-size="12" text-anchor="end" class="s">0.1</text>
<text x="44.6" y="137.02" font-size="12" text-anchor="end" class="s">0.2</text>
<text x="44.6" y="96.68" font-size="12" text-anchor="end" class="s">0.3</text>
<text x="44.6" y="56.34" font-size="12" text-anchor="end" class="s">0.4</text>
<text x="44.6" y="16" font-size="12" text-anchor="end" class="s">0.5</text>
<text x="49.3" y="228" font-size="12" text-anchor="middle" class="s">0</text>
<text x="118.22" y="228" font-size="12" text-anchor="middle" class="s">2</text>
<text x="187.15" y="228" font-size="12" text-anchor="middle" class="s">4</text>
<text x="256.07" y="228" font-size="12" text-anchor="middle" class="s">6</text>
<text x="325" y="228" font-size="12" text-anchor="middle" class="s">8</text>
<text x="376.4" y="215.4" font-size="12" text-anchor="end" class="s">0.0</text>
<text x="376.4" y="174.84" font-size="12" text-anchor="end" class="s">0.1</text>
<text x="376.4" y="134.28" font-size="12" text-anchor="end" class="s">0.2</text>
<text x="376.4" y="93.72" font-size="12" text-anchor="end" class="s">0.3</text>
<text x="376.4" y="53.16" font-size="12" text-anchor="end" class="s">0.4</text>
<text x="376.4" y="12.6" font-size="12" text-anchor="end" class="s">0.5</text>
<text x="380.9" y="224.7" font-size="12" text-anchor="middle" class="s">0</text>
<text x="449.82" y="224.7" font-size="12" text-anchor="middle" class="s">1</text>
<text x="518.75" y="224.7" font-size="12" text-anchor="middle" class="s">2</text>
<text x="587.67" y="224.7" font-size="12" text-anchor="middle" class="s">3</text>
<text x="656.6" y="224.7" font-size="12" text-anchor="middle" class="s">4</text>
<text x="44.8" y="472.9" font-size="12" text-anchor="end" class="s">0.0</text>
<text x="44.8" y="432.46" font-size="12" text-anchor="end" class="s">0.1</text>
<text x="44.8" y="392.02" font-size="12" text-anchor="end" class="s">0.2</text>
<text x="44.8" y="351.58" font-size="12" text-anchor="end" class="s">0.3</text>
<text x="44.8" y="311.14" font-size="12" text-anchor="end" class="s">0.4</text>
<text x="44.8" y="270.7" font-size="12" text-anchor="end" class="s">0.5</text>
<text x="51.9" y="485.5" font-size="12" text-anchor="middle" class="s">0</text>
<text x="120.78" y="485.5" font-size="12" text-anchor="middle" class="s">2</text>
<text x="189.65" y="485.5" font-size="12" text-anchor="middle" class="s">4</text>
<text x="258.52" y="485.5" font-size="12" text-anchor="middle" class="s">6</text>
<text x="327.4" y="485.5" font-size="12" text-anchor="middle" class="s">8</text>
<text x="376.4" y="473.2" font-size="12" text-anchor="end" class="s">0.0</text>
<text x="376.4" y="432.7" font-size="12" text-anchor="end" class="s">0.1</text>
<text x="376.4" y="392.2" font-size="12" text-anchor="end" class="s">0.2</text>
<text x="376.4" y="351.7" font-size="12" text-anchor="end" class="s">0.3</text>
<text x="376.4" y="311.2" font-size="12" text-anchor="end" class="s">0.4</text>
<text x="376.4" y="270.7" font-size="12" text-anchor="end" class="s">0.5</text>
<text x="381.5" y="482.8" font-size="12" text-anchor="middle" class="s">0</text>
<text x="450.48" y="482.8" font-size="12" text-anchor="middle" class="s">1</text>
<text x="519.45" y="482.8" font-size="12" text-anchor="middle" class="s">2</text>
<text x="588.42" y="482.8" font-size="12" text-anchor="middle" class="s">3</text>
<text x="657.4" y="482.8" font-size="12" text-anchor="middle" class="s">4</text>
<circle cx="75.2" cy="48.8" r="2.7" fill="#f00000"/>
<circle cx="75.2" cy="63.1" r="2.2" fill="#fff" stroke="#3a3a3a" stroke-width="0.9"/>
<path d="M75.2 73.7 L76.23 76.38 L79.1 76.53 L76.86 78.34 L77.61 81.12 L75.2 79.55 L72.79 81.12 L73.54 78.34 L71.3 76.53 L74.17 76.38Z" fill="#fff" stroke="#3434cc" stroke-width="1.0"/>
<text x="92.6" y="52.4" font-size="11.5" class="s">The potential</text>
<text x="92.6" y="67" font-size="11.5" class="s">The classical</text>
<text x="92.6" y="81.2" font-size="11.5" class="s">Numerical simulation</text>
<circle cx="405.5" cy="45.9" r="2.7" fill="#f00000"/>
<circle cx="405.5" cy="60.9" r="2.2" fill="#fff" stroke="#3a3a3a" stroke-width="0.9"/>
<path d="M405.5 71.1 L406.53 73.78 L409.4 73.93 L407.16 75.74 L407.91 78.52 L405.5 76.95 L403.09 78.52 L403.84 75.74 L401.6 73.93 L404.47 73.78Z" fill="#fff" stroke="#3434cc" stroke-width="1.0"/>
<text x="423.2" y="50" font-size="11.7" class="s">The potential</text>
<text x="423.2" y="64.5" font-size="11.7" class="s">The classical</text>
<text x="423.2" y="78.8" font-size="11.7" class="s">Numerical simulation</text>
<circle cx="81.7" cy="300.2" r="2.7" fill="#f00000"/>
<circle cx="81.7" cy="311.9" r="2.2" fill="#fff" stroke="#3a3a3a" stroke-width="0.9"/>
<path d="M81.7 320.13 L82.65 322.6 L85.29 322.73 L83.23 324.4 L83.92 326.95 L81.7 325.51 L79.48 326.95 L80.17 324.4 L78.11 322.73 L80.75 322.6Z" fill="#fff" stroke="#3434cc" stroke-width="1.0"/>
<text x="95.7" y="303.8" font-size="10.1" class="s">The potential</text>
<text x="95.7" y="315.4" font-size="10.1" class="s">The classical</text>
<text x="95.7" y="327.5" font-size="10.1" class="s">Numerical simulation</text>
<circle cx="521.3" cy="407.2" r="2.7" fill="#f00000"/>
<circle cx="521.3" cy="421.3" r="2.2" fill="#fff" stroke="#3a3a3a" stroke-width="0.9"/>
<path d="M521.3 432.1 L522.33 434.78 L525.2 434.93 L522.96 436.74 L523.71 439.52 L521.3 437.95 L518.89 439.52 L519.64 436.74 L517.4 434.93 L520.27 434.78Z" fill="#fff" stroke="#3434cc" stroke-width="1.0"/>
<text x="538.3" y="411" font-size="11.7" class="s">The potential</text>
<text x="538.3" y="425.3" font-size="11.7" class="s">The classical</text>
<text x="538.3" y="439.9" font-size="11.7" class="s">Numerical simulation</text>
<text x="68" y="30.9" font-size="11.8" class="s"><tspan class="fi">A</tspan>=0.2</text>
<text x="398.9" y="28.9" font-size="11.8" class="s"><tspan class="fi">A</tspan>=0.8</text>
<text x="74.9" y="284.9" font-size="11.8" class="s"><tspan class="fi" style="font-family:'Liberation Sans',sans-serif">A</tspan>=0.2</text>
<text x="397" y="288" font-size="11.8" class="s"><tspan class="fi">A</tspan>=0.8</text>
<text x="308.7" y="209.2" font-size="12" class="f">(a)</text>
<text x="641" y="206.5" font-size="12" class="f">(b)</text>
<text x="311.8" y="465" font-size="12" class="f">(c)</text>
<text x="640.5" y="464.3" font-size="12" class="f">(d)</text>
<text x="123.8" y="250.2" font-size="11.6" class="f">Dimensionless time <tspan class="fi">t</tspan><tspan class="f">(</tspan><tspan class="fi">kg</tspan><tspan class="f">)</tspan><tspan class="f" font-size="6.5" dy="-6">1/2</tspan></text>
<text x="449.9" y="246.8" font-size="11.8" class="s">Dimensionless time <tspan class="fi">t</tspan><tspan class="f">(</tspan><tspan class="fi">kg</tspan><tspan class="f">)</tspan><tspan class="s" font-size="7.32" dy="-5">1/2</tspan></text>
<text x="126.5" y="507.2" font-size="11.5" class="f">Dimensionless time <tspan class="fi">t</tspan><tspan class="f">(</tspan><tspan class="fi">kg</tspan><tspan class="f">)</tspan><tspan class="f" font-size="6.44" dy="-6">1/2</tspan></text>
<text x="450.8" y="504.9" font-size="11.8" class="s">Dimensionless time <tspan class="fi">t</tspan><tspan class="f">(</tspan><tspan class="fi">kg</tspan><tspan class="f">)</tspan><tspan class="s" font-size="7.32" dy="-5">1/2</tspan></text>
<text transform="translate(11.6 223) rotate(-90)" font-size="11.65" class="f">Dimensionless velocity of the bubble <tspan class="fi">v</tspan><tspan class="fi" font-size="8.15" dy="3">bb</tspan><tspan class="f" font-size="12.82" dy="-3">(</tspan><tspan class="fi" font-size="12.82">k/g</tspan><tspan class="f" font-size="12.82">)</tspan><tspan class="s" font-size="7.22" dy="-5">1/2</tspan></text>
<text transform="translate(351 238.3) rotate(-90)" font-size="11.5" class="s">Dimensionless velocity of the bubble <tspan class="fi">v</tspan><tspan class="fi" font-size="8.05" dy="3">bb</tspan><tspan class="f" font-size="12.65" dy="-3">(</tspan><tspan class="fi" font-size="12.65">k/g</tspan><tspan class="f" font-size="12.65">)</tspan><tspan class="s" font-size="7.13" dy="-5">1/2</tspan></text>
<text transform="translate(12 474.3) rotate(-90)" font-size="11.65" class="f">Dimensionless velocity of the spike <tspan class="fi">v</tspan><tspan class="fi" font-size="8.15" dy="3">sp</tspan><tspan class="f" font-size="12.82" dy="-3">(</tspan><tspan class="fi" font-size="12.82">k/g</tspan><tspan class="f" font-size="12.82">)</tspan><tspan class="s" font-size="7.22" dy="-5">1/2</tspan></text>
<text transform="translate(351.8 492.2) rotate(-90)" font-size="11.65" class="s">Dimensionless velocity of the spike <tspan class="fi">v</tspan><tspan class="fi" font-size="8.15" dy="3">sp</tspan><tspan class="f" font-size="12.82" dy="-3">(</tspan><tspan class="fi" font-size="12.82">k/g</tspan><tspan class="f" font-size="12.82">)</tspan><tspan class="s" font-size="7.22" dy="-5">1/2</tspan></text>
</svg></body></html>
